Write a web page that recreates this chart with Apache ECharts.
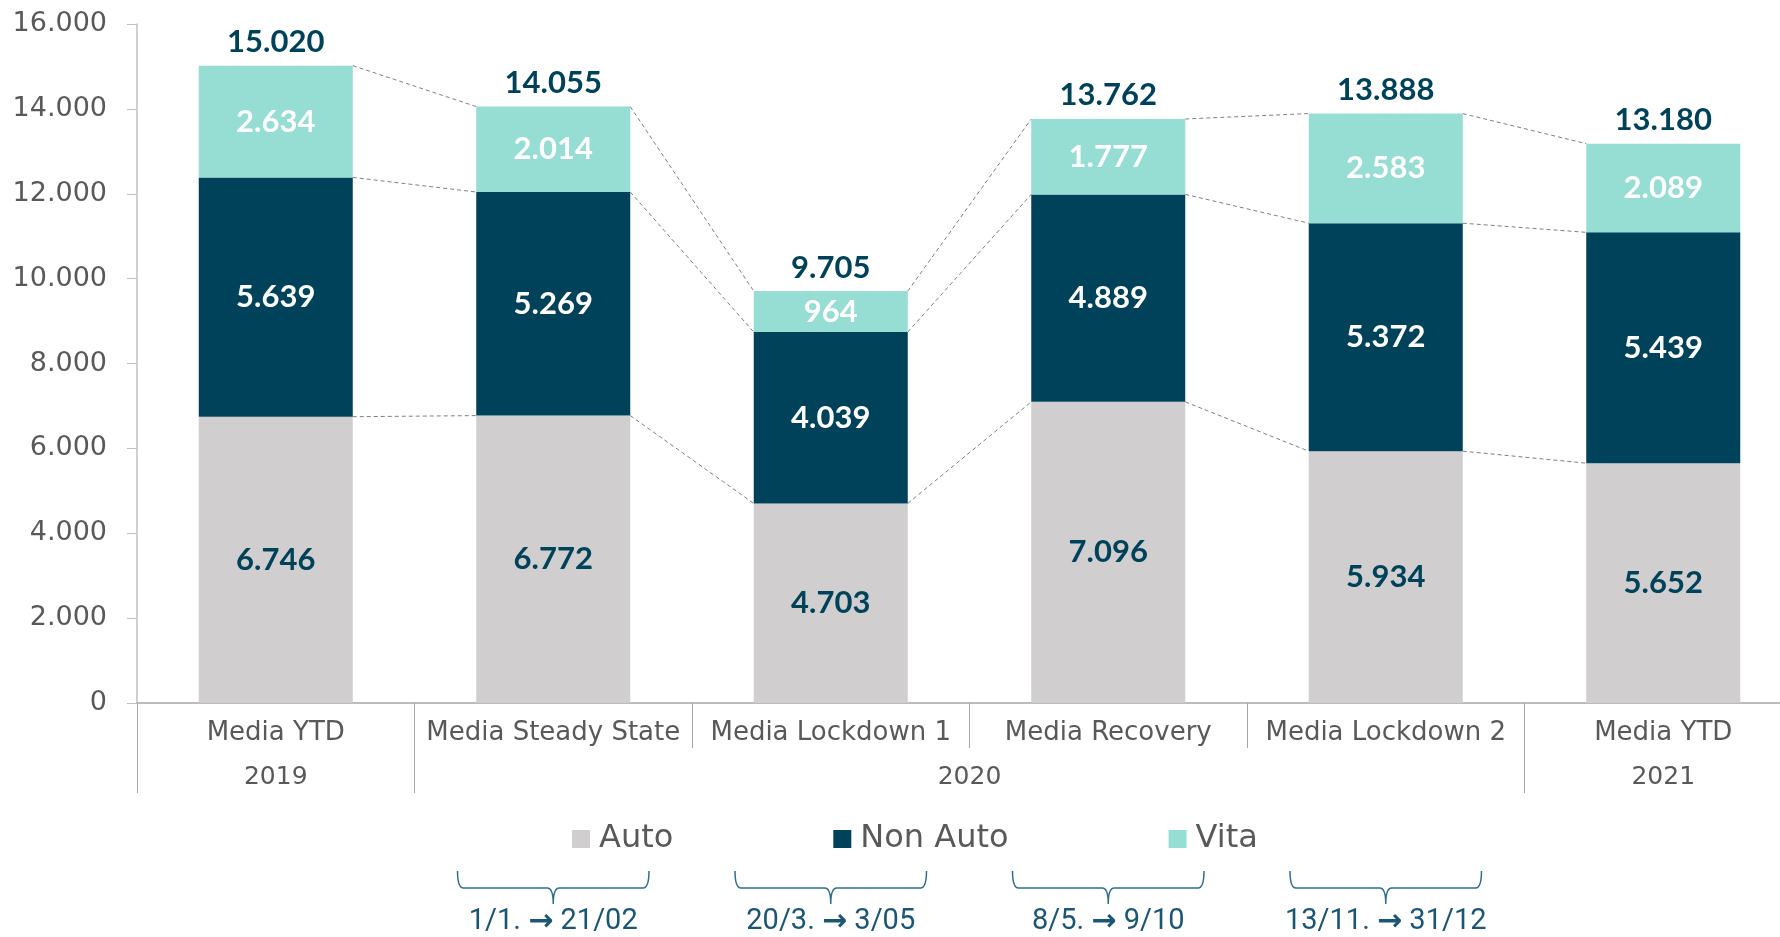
<!DOCTYPE html>
<html><head><meta charset="utf-8">
<script src="https://cdn.jsdelivr.net/npm/echarts@6/dist/echarts.min.js"></script>
<style>html,body{margin:0;padding:0;background:#fff}#c{width:1780px;height:937px}</style>
</head><body><div id="c"></div>
<script>
const categories = ['Media YTD', 'Media Steady State', 'Media Lockdown 1', 'Media Recovery', 'Media Lockdown 2', 'Media YTD'];
const yearLabels = ['2019', '2020', '2021'];
const yearSpans = [1, 4, 1];
const autoValues = [6746, 6772, 4703, 7096, 5934, 5652];
const nonAutoValues = [5639, 5269, 4039, 4889, 5372, 5439];
const vitaValues = [2634, 2014, 964, 1777, 2583, 2089];
const totalValues = [15020, 14055, 9705, 13762, 13888, 13180];
const periodLabels = ['1/1. \u2192 21/02', '20/3. \u2192 3/05', '8/5. \u2192 9/10', '13/11. \u2192 31/12'];
const periodCategory = [1, 2, 3, 4];
const yMin = 0, yMax = 16000, yStep = 2000;

const BAR = 0.555;
const fmt = v => String(Math.round(v)).replace(/\B(?=(\d{3})+(?!\d))/g, '.');

const yearBounds = [0];
const yearCentres = [];
yearSpans.forEach((s, i) => { const a = yearBounds[i]; yearBounds.push(a + s); yearCentres.push(a + s / 2); });

const cum = categories.map((_, i) => [autoValues[i], autoValues[i] + nonAutoValues[i], autoValues[i] + nonAutoValues[i] + vitaValues[i]]);
const connData = [];
for (let i = 0; i < categories.length - 1; i++) connData.push([i, ...cum[i], ...cum[i + 1]]);
const braceData = periodCategory.map((ci, k) => [ci, 0, k]);

const chart = echarts.init(document.getElementById('c'), null, { renderer: 'canvas' });
const labelFont = { fontFamily: 'Lato', fontWeight: 'bold', fontSize: 31 };
const axisFont = 'DejaVu Sans';

chart.setOption({
  animation: false,
  backgroundColor: '#ffffff',
  grid: { left: 137, right: -22, top: 24, bottom: 234, containLabel: false, outerBoundsMode: 'none' },
  legend: {
    data: ['Auto', 'Non Auto', 'Vita'],
    left: 567, top: 818,
    icon: 'rect', itemWidth: 18, itemHeight: 18, itemGap: 160,
    textStyle: { fontFamily: axisFont, fontSize: 32, color: '#595959', padding: [0, 0, 0, 4] }
  },
  xAxis: [{
    type: 'category', data: categories, position: 'bottom',
    axisLine: { show: true, lineStyle: { color: '#A6A6A6', width: 1.5 } },
    axisTick: { show: true, interval: 0, length: 45, lineStyle: { color: '#A6A6A6', width: 1 } },
    axisLabel: { interval: 0, margin: 17, fontFamily: axisFont, fontSize: 26, color: '#595959' },
    splitLine: { show: false }
  }, {
    type: 'value', min: 0, max: categories.length, position: 'bottom',
    axisLine: { show: false },
    axisTick: { show: true, customValues: yearBounds.slice(0, -1), length: 90, lineStyle: { color: '#A6A6A6', width: 1 } },
    axisLabel: {
      customValues: yearCentres, margin: 62, fontFamily: axisFont, fontSize: 25, color: '#595959',
      formatter: v => { const k = yearCentres.indexOf(v); return k >= 0 ? yearLabels[k] : ''; }
    },
    splitLine: { show: false }
  }],
  yAxis: {
    type: 'value', min: yMin, max: yMax, interval: yStep,
    axisLine: { show: true, lineStyle: { color: '#BFBFBF', width: 1.5 } },
    axisTick: { show: true, inside: false, length: 10, lineStyle: { color: '#BFBFBF' } },
    axisLabel: { margin: 30, fontFamily: axisFont, fontSize: 27, color: '#595959', formatter: fmt },
    splitLine: { show: false }
  },
  series: [{
    name: 'Auto', type: 'bar', stack: 'a', barWidth: (BAR * 100) + '%', data: autoValues,
    itemStyle: { color: '#D0CECE' },
    label: { show: true, position: 'inside', color: '#00425A', ...labelFont, formatter: p => fmt(p.value) }
  }, {
    name: 'Non Auto', type: 'bar', stack: 'a', barWidth: (BAR * 100) + '%', data: nonAutoValues,
    itemStyle: { color: '#00425A' },
    label: { show: true, position: 'inside', color: '#ffffff', ...labelFont, formatter: p => fmt(p.value) }
  }, {
    name: 'Vita', type: 'bar', stack: 'a', barWidth: (BAR * 100) + '%', data: vitaValues,
    itemStyle: { color: '#96DDD3' },
    label: { show: true, position: 'inside', color: '#ffffff', ...labelFont, formatter: p => fmt(p.value) }
  }, {
    name: 'Totale', type: 'bar', stack: 'a', barWidth: (BAR * 100) + '%', data: totalValues.map(() => 0),
    itemStyle: { color: 'transparent' },
    label: { show: true, position: 'top', distance: 8, color: '#00425A', ...labelFont, formatter: p => fmt(totalValues[p.dataIndex]) }
  }, {
    name: 'conn', type: 'custom', data: connData, silent: true, z: 1,
    encode: { x: 0, y: [1, 2, 3, 4, 5, 6] },
    renderItem: (params, api) => {
      const i = api.value(0);
      const hw = api.size([1, 0])[0] * BAR / 2;
      const children = [];
      for (let k = 0; k < 3; k++) {
        const p1 = api.coord([i, api.value(1 + k)]);
        const p2 = api.coord([i + 1, api.value(4 + k)]);
        children.push({ type: 'line', shape: { x1: p1[0] + hw, y1: p1[1], x2: p2[0] - hw, y2: p2[1] },
          style: { stroke: '#808080', lineWidth: 1, lineDash: [4, 3] } });
      }
      return { type: 'group', children };
    }
  }, {
    name: 'braces', type: 'custom', data: braceData, silent: true, clip: false,
    encode: { x: 0, y: 1 },
    renderItem: (params, api) => {
      const c = api.coord([api.value(0), 0])[0];
      const hw = api.size([1, 0])[0] * 0.345;
      const k = api.value(2);
      const L = c - hw, R = c + hw;
      const yTip = 871, yBar = 888, yStem = 904, yText = 922;
      const d = `M${L} ${yTip} Q${L} ${yBar} ${L + 6} ${yBar} L${c - 6} ${yBar} Q${c} ${yBar} ${c} ${yStem} Q${c} ${yBar} ${c + 6} ${yBar} L${R - 6} ${yBar} Q${R} ${yBar} ${R} ${yTip}`;
      return { type: 'group', children: [
        { type: 'path', shape: { pathData: d }, style: { stroke: '#2F6F8C', fill: null, lineWidth: 1.5 } },
        { type: 'text', x: c, y: yText, style: {
          text: periodLabels[k].replace('\u2192', '{a|\u2192}'),
          fill: '#1B5674', fontFamily: 'Roboto', fontSize: 29, align: 'center', verticalAlign: 'middle',
          rich: { a: { fontFamily: 'DejaVu Sans', fontWeight: 'bold', fontSize: 30, fill: '#1B5674', color: '#1B5674' } } } }
      ] };
    }
  }]
});
</script>
</body></html>
